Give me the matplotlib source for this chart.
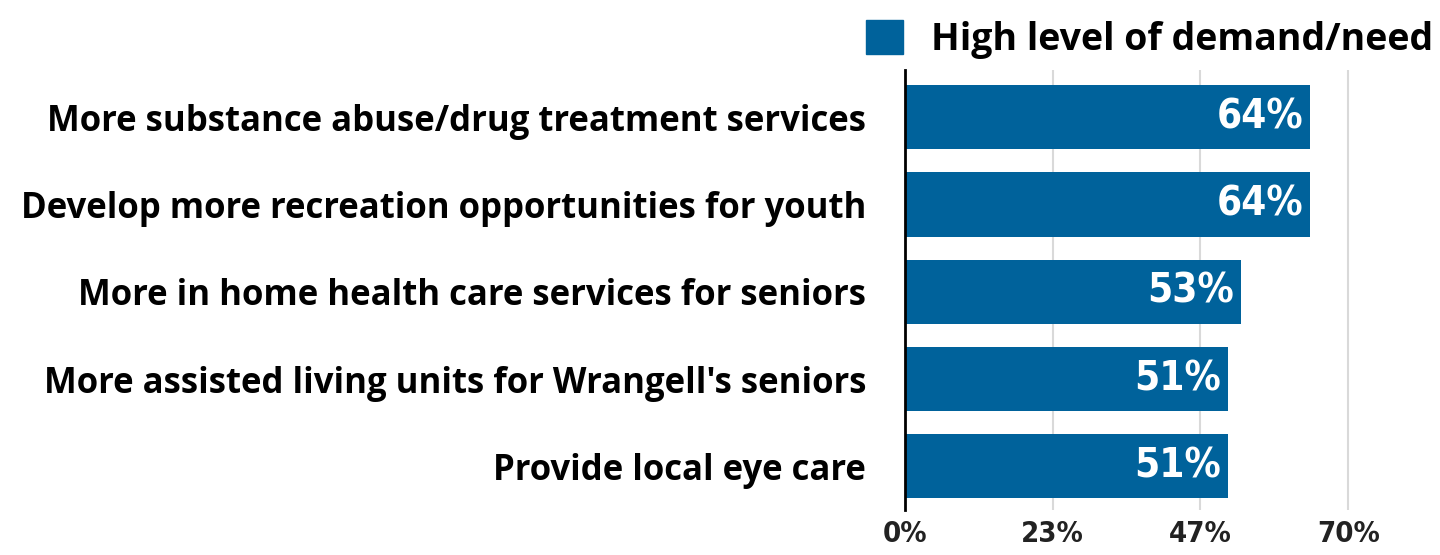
import matplotlib.pyplot as plt
from matplotlib.patches import Patch

categories = [
    "More substance abuse/drug treatment services",
    "Develop more recreation opportunities for youth",
    "More in home health care services for seniors",
    "More assisted living units for Wrangell's seniors",
    "Provide local eye care",
]
values = [64, 64, 53, 51, 51]
tick_vals = [0, 23.33, 46.67, 70]
tick_labels = ["0%", "23%", "47%", "70%"]
series_name = "High level of demand/need"

blue = "#00629b"
label_font = ["Open Sans", "DejaVu Sans"]
num_font = ["DejaVu Sans"]

fig = plt.figure(figsize=(14.4, 5.55), dpi=100)
ax = fig.add_axes([905 / 1440, 1 - 510 / 555, 1 - 905 / 1440, 440 / 555])

y = list(range(len(categories)))
ax.barh(y, values, height=0.735, color=blue, zorder=2)

for yi, v in zip(y, values):
    ax.text(v - 1.1, yi, f"{v}%", ha="right", va="center", color="white",
            fontsize=29, fontweight="bold", family=num_font, stretch="condensed", zorder=3)

ax.set_xlim(0, 84.5)
ax.set_ylim(4.5, -0.54)
ax.set_xticks(tick_vals)
ax.set_xticklabels(tick_labels, fontsize=21, fontweight="bold", family=num_font,
                   stretch="condensed", color="#222222")
ax.set_yticks(y)
ax.set_yticklabels(categories, fontsize=25, fontweight="bold", family=label_font, color="black")
ax.tick_params(axis="both", length=0)
ax.tick_params(axis="y", pad=28)
ax.tick_params(axis="x", pad=7)

for t in tick_vals[1:]:
    ax.axvline(t, color="#d9d9d9", lw=1.5, zorder=1)

for s in ["top", "right", "bottom"]:
    ax.spines[s].set_visible(False)
ax.spines["left"].set_linewidth(2)
ax.spines["left"].set_color("black")

leg = fig.legend(handles=[Patch(color=blue, label=series_name)],
                 loc="upper right", bbox_to_anchor=(1.019, 1.024), frameon=False,
                 handlelength=1.0, handleheight=1.0, handletextpad=0.75,
                 prop={"family": label_font, "weight": "bold", "size": 27})

fig.savefig("out.png", dpi=100)
